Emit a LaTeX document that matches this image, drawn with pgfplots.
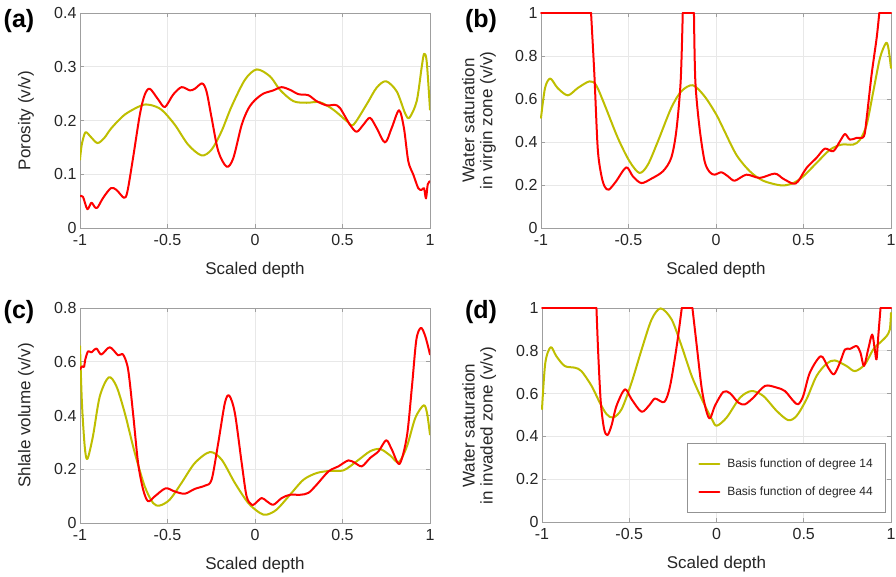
\documentclass[border=0pt]{standalone}
\usepackage{fontspec}
\setmainfont{Liberation Sans}
\usepackage{pgfplots}
\pgfplotsset{compat=1.18}
\definecolor{oliveC}{RGB}{190,190,0}
\definecolor{redC}{RGB}{255,0,0}
\pgfplotsset{
  panel/.style={
    scale only axis, width=350pt, height=215pt, anchor=south west,
    xmin=-1, xmax=1,
    xtick={-1,-0.5,0,0.5,1}, xticklabels={-1,-0.5,0,0.5,1},
    grid=major, grid style={draw=gray!18, line width=0.6pt},
    axis line style={draw=gray!75, line width=0.9pt},
    tick style={draw=gray!75, line width=0.6pt}, major tick length=4pt,
    tick label style={font=\fontsize{16}{19}\selectfont, text=black!85},
    xticklabel style={yshift=-3pt},
    label style={font=\fontsize{17}{18}\selectfont, text=black!85},
    xlabel={Scaled depth},
    xlabel style={at={(axis description cs:0.5,-0.195)}, anchor=center},
    ylabel style={at={(axis description cs:-0.154,0.5)}, anchor=center, align=center},
  },
  olv/.style={color=oliveC, line width=2pt, line join=round, line cap=round, smooth, tension=0.5, no markers},
  rd/.style={color=redC, line width=2pt, line join=round, line cap=round, smooth, tension=0.5, no markers},
  rdflat/.style={color=redC, line width=2pt, line cap=round, sharp plot, no markers, forget plot},
}
\begin{document}
\begin{tikzpicture}[x=1pt,y=1pt]
\useasboundingbox (0,0) rectangle (896,577);

% (a)
\begin{axis}[panel, at={(80pt,349pt)},
  ymin=0, ymax=0.4, ytick={0,0.1,0.2,0.3,0.4}, yticklabels={0,0.1,0.2,0.3,0.4},
  ylabel={Porosity (v/v)}]
\addplot[olv] coordinates {(-1,0.127) (-0.99,0.155) (-0.969,0.178) (-0.94,0.170) (-0.90,0.158) (-0.86,0.168) (-0.82,0.186) (-0.744,0.211) (-0.649,0.228) (-0.60,0.229) (-0.534,0.220) (-0.458,0.192) (-0.382,0.155) (-0.305,0.135) (-0.248,0.146) (-0.191,0.180) (-0.134,0.226) (-0.057,0.276) (0.01,0.295) (0.086,0.282) (0.143,0.257) (0.219,0.236) (0.295,0.233) (0.371,0.234) (0.448,0.220) (0.524,0.199) (0.562,0.192) (0.638,0.230) (0.695,0.261) (0.749,0.273) (0.81,0.254) (0.857,0.214) (0.882,0.205) (0.924,0.236) (0.952,0.298) (0.966,0.324) (0.981,0.31) (1.0,0.22)};
\addplot[rd] coordinates {(-1,0.059) (-0.983,0.058) (-0.958,0.035) (-0.935,0.047) (-0.916,0.039) (-0.90,0.038) (-0.868,0.056) (-0.824,0.074) (-0.792,0.071) (-0.748,0.056) (-0.729,0.068) (-0.697,0.130) (-0.658,0.211) (-0.63,0.248) (-0.601,0.259) (-0.553,0.239) (-0.515,0.225) (-0.468,0.248) (-0.42,0.262) (-0.372,0.256) (-0.344,0.259) (-0.302,0.269) (-0.277,0.254) (-0.248,0.205) (-0.21,0.143) (-0.162,0.114) (-0.124,0.130) (-0.076,0.192) (-0.038,0.222) (0,0.238) (0.048,0.250) (0.105,0.256) (0.152,0.262) (0.2,0.257) (0.248,0.249) (0.305,0.247) (0.352,0.236) (0.41,0.228) (0.457,0.229) (0.486,0.223) (0.543,0.192) (0.581,0.179) (0.619,0.192) (0.657,0.205) (0.695,0.186) (0.743,0.159) (0.781,0.186) (0.823,0.219) (0.851,0.186) (0.876,0.124) (0.905,0.099) (0.933,0.074) (0.952,0.071) (0.966,0.074) (0.977,0.055) (0.987,0.081) (1.0,0.087)};
\end{axis}

% (b)
\begin{axis}[panel, at={(541pt,349pt)}, clip=false,
  ymin=0, ymax=1, ytick={0,0.2,0.4,0.6,0.8,1}, yticklabels={0,0.2,0.4,0.6,0.8,1},
  ylabel style={at={(axis description cs:-0.177,0.5)}},
  ylabel={Water saturation\\in virgin zone (v/v)}]
\addplot[olv] coordinates {(-1,0.512) (-0.977,0.651) (-0.947,0.695) (-0.905,0.651) (-0.847,0.617) (-0.79,0.651) (-0.723,0.682) (-0.685,0.664) (-0.637,0.574) (-0.561,0.419) (-0.494,0.31) (-0.437,0.256) (-0.389,0.295) (-0.332,0.403) (-0.256,0.558) (-0.198,0.636) (-0.132,0.664) (-0.065,0.612) (0.0,0.53) (0.04,0.465) (0.116,0.341) (0.193,0.264) (0.269,0.220) (0.374,0.198) (0.441,0.209) (0.498,0.240) (0.574,0.302) (0.651,0.364) (0.718,0.388) (0.784,0.388) (0.823,0.411) (0.861,0.481) (0.899,0.636) (0.937,0.791) (0.971,0.860) (0.985,0.837) (1.0,0.744)};
\addplot[rd] coordinates {(-0.714,1) (-0.695,0.713) (-0.676,0.372) (-0.656,0.248) (-0.637,0.194) (-0.613,0.178) (-0.571,0.217) (-0.513,0.282) (-0.475,0.240) (-0.427,0.209) (-0.37,0.229) (-0.303,0.264) (-0.256,0.326) (-0.227,0.450) (-0.202,0.682) (-0.19,1)};
\addplot[rd] coordinates {(-0.126,1) (-0.118,0.682) (-0.094,0.465) (-0.065,0.31) (-0.036,0.26) (-0.008,0.248) (0.031,0.259) (0.069,0.240) (0.107,0.22) (0.174,0.248) (0.25,0.233) (0.336,0.253) (0.384,0.229) (0.441,0.206) (0.469,0.217) (0.517,0.279) (0.574,0.326) (0.622,0.369) (0.67,0.357) (0.708,0.403) (0.737,0.437) (0.765,0.411) (0.803,0.419) (0.845,0.426) (0.861,0.512) (0.889,0.713) (0.918,0.884) (0.933,1)};
\addplot[rdflat] coordinates {(-1,1) (-0.714,1)};
\addplot[rdflat] coordinates {(-0.19,1) (-0.126,1)};
\addplot[rdflat] coordinates {(0.933,1) (1,1)};
\end{axis}

% (c)
\begin{axis}[panel, at={(80pt,54pt)},
  ymin=0, ymax=0.8, ytick={0,0.2,0.4,0.6,0.8}, yticklabels={0,0.2,0.4,0.6,0.8},
  ylabel={Shlale volume (v/v)}]
\addplot[olv] coordinates {(-1,0.658) (-0.989,0.447) (-0.973,0.285) (-0.958,0.238) (-0.926,0.323) (-0.887,0.471) (-0.836,0.542) (-0.792,0.509) (-0.744,0.409) (-0.687,0.261) (-0.63,0.136) (-0.582,0.074) (-0.544,0.065) (-0.487,0.087) (-0.42,0.149) (-0.344,0.223) (-0.258,0.264) (-0.191,0.236) (-0.115,0.149) (-0.038,0.074) (0.029,0.037) (0.067,0.031) (0.124,0.05) (0.2,0.105) (0.277,0.161) (0.353,0.186) (0.429,0.194) (0.506,0.196) (0.582,0.23) (0.658,0.267) (0.716,0.275) (0.773,0.251) (0.821,0.226) (0.868,0.285) (0.916,0.391) (0.964,0.438) (0.983,0.409) (1.0,0.329)};
\addplot[rd] coordinates {(-1,0.571) (-0.989,0.583) (-0.977,0.581) (-0.97,0.608) (-0.954,0.639) (-0.935,0.635) (-0.906,0.649) (-0.878,0.627) (-0.83,0.654) (-0.782,0.624) (-0.754,0.627) (-0.725,0.571) (-0.697,0.409) (-0.668,0.223) (-0.639,0.124) (-0.611,0.081) (-0.573,0.099) (-0.511,0.129) (-0.458,0.117) (-0.401,0.109) (-0.344,0.127) (-0.286,0.139) (-0.248,0.161) (-0.21,0.298) (-0.172,0.447) (-0.147,0.474) (-0.115,0.409) (-0.076,0.223) (-0.048,0.099) (-0.019,0.068) (0.0,0.072) (0.038,0.093) (0.067,0.081) (0.105,0.068) (0.153,0.093) (0.2,0.105) (0.258,0.105) (0.305,0.112) (0.353,0.143) (0.42,0.192) (0.477,0.211) (0.534,0.233) (0.573,0.223) (0.611,0.211) (0.658,0.242) (0.706,0.267) (0.75,0.308) (0.782,0.273) (0.826,0.220) (0.868,0.323) (0.897,0.509) (0.922,0.682) (0.948,0.726) (0.973,0.695) (1.0,0.627)};
\end{axis}

% (d)
\begin{axis}[panel, at={(542pt,55pt)}, width=349pt, height=214pt, clip=false,
  ymin=0, ymax=1, ytick={0,0.2,0.4,0.6,0.8,1}, yticklabels={0,0.2,0.4,0.6,0.8,1},
  ylabel style={at={(axis description cs:-0.18,0.45)}},
  ylabel={Water saturation\\in invaded zone (v/v)},
  legend style={at={(0.986,0.367)}, anchor=north east, draw=gray!85, line width=0.8pt,
    font=\fontsize{12}{14}\selectfont, text=black!85, inner xsep=11pt, inner ysep=13pt,
    row sep=14pt, cells={anchor=west},
    /tikz/every odd column/.append style={column sep=5pt}},
  legend image code/.code={\draw[#1] (0pt,0pt) -- (20pt,0pt);}]
\addplot[olv] coordinates {(-1,0.527) (-0.981,0.744) (-0.95,0.817) (-0.918,0.775) (-0.87,0.729) (-0.812,0.721) (-0.774,0.705) (-0.716,0.636) (-0.669,0.558) (-0.63,0.504) (-0.592,0.488) (-0.544,0.527) (-0.487,0.651) (-0.429,0.806) (-0.372,0.946) (-0.32,0.998) (-0.257,0.946) (-0.2,0.822) (-0.142,0.682) (-0.084,0.574) (-0.027,0.481) (0.001,0.45) (0.058,0.488) (0.135,0.581) (0.201,0.612) (0.268,0.589) (0.345,0.519) (0.411,0.476) (0.459,0.496) (0.516,0.574) (0.573,0.682) (0.631,0.740) (0.678,0.755) (0.745,0.729) (0.793,0.705) (0.85,0.736) (0.898,0.806) (0.946,0.845) (0.974,0.868) (0.993,0.899) (1.0,0.977)};
\addlegendentry{Basis function of degree 14}
\addplot[rd] coordinates {(-0.688,1) (-0.678,0.791) (-0.663,0.558) (-0.644,0.434) (-0.625,0.406) (-0.602,0.45) (-0.573,0.543) (-0.525,0.620) (-0.487,0.574) (-0.429,0.515) (-0.381,0.550) (-0.352,0.577) (-0.299,0.561) (-0.266,0.636) (-0.228,0.822) (-0.199,1)};
\addlegendentry{Basis function of degree 44}
\addplot[rd, forget plot] coordinates {(-0.138,1) (-0.113,0.822) (-0.084,0.620) (-0.056,0.512) (-0.036,0.485) (-0.009,0.543) (0.039,0.608) (0.077,0.602) (0.125,0.558) (0.163,0.55) (0.211,0.581) (0.278,0.636) (0.345,0.628) (0.392,0.612) (0.44,0.566) (0.468,0.55) (0.497,0.589) (0.535,0.698) (0.598,0.775) (0.64,0.721) (0.673,0.690) (0.707,0.744) (0.736,0.806) (0.765,0.809) (0.803,0.822) (0.825,0.791) (0.845,0.729) (0.869,0.806) (0.892,0.876) (0.907,0.806) (0.917,0.760) (0.927,0.868) (0.94,1)};
\addplot[rdflat] coordinates {(-1,1) (-0.688,1)};
\addplot[rdflat] coordinates {(-0.199,1) (-0.138,1)};
\addplot[rdflat] coordinates {(0.94,1) (1,1)};
\end{axis}

\node[font=\bfseries\fontsize{25}{25}\selectfont] at (19,556) {(a)};
\node[font=\bfseries\fontsize{25}{25}\selectfont] at (481,556) {(b)};
\node[font=\bfseries\fontsize{25}{25}\selectfont] at (19,265) {(c)};
\node[font=\bfseries\fontsize{25}{25}\selectfont] at (481,265) {(d)};
\end{tikzpicture}
\end{document}
